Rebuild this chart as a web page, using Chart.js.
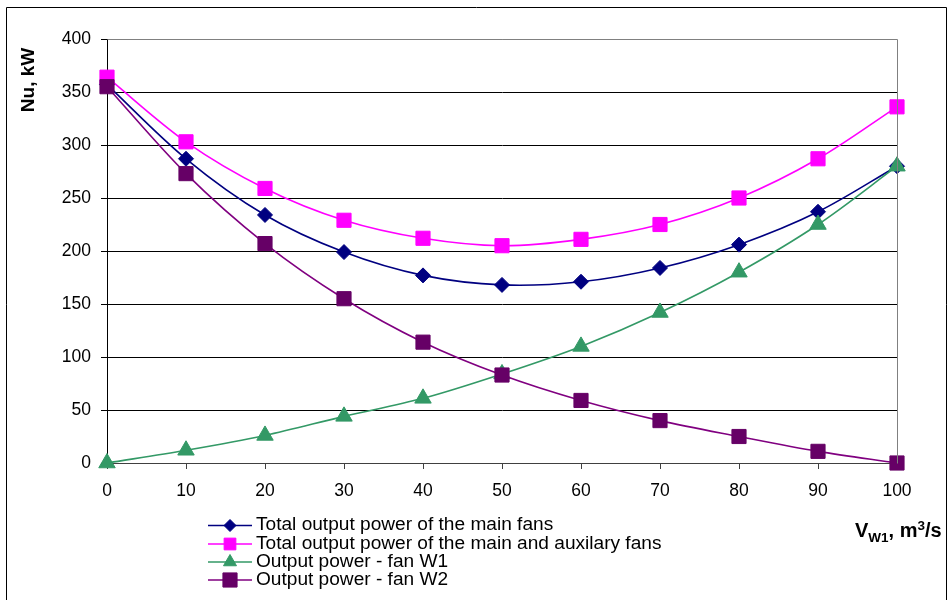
<!DOCTYPE html>
<html>
<head>
<meta charset="utf-8">
<script src="https://cdn.jsdelivr.net/npm/chart.js@4/dist/chart.umd.min.js"></script>
<style>
  html, body { margin: 0; padding: 0; background: #fff; }
  #wrap { width: 949px; height: 600px; position: relative; }
</style>
</head>
<body>
<div id="wrap"><canvas id="c" width="949" height="600"></canvas></div>
<script>
// ---- data ----
const categories = ['0','10','20','30','40','50','60','70','80','90','100'];
const mainFans   = [357, 287, 234, 199, 177, 168, 171, 184, 206, 237, 280];
const mainAuxFans= [364, 303, 259, 229, 212, 205, 211, 225, 250, 287, 336];
const fanW1      = [0, 12, 26, 44, 61, 84, 110, 142, 180, 225, 280];
const fanW2      = [355, 273, 207, 155, 114, 83, 59, 40, 25, 11, 0];
const yTicks     = [0, 50, 100, 150, 200, 250, 300, 350, 400];
const seriesNames = [
  'Total output power of the main fans',
  'Total output power of the main and auxilary fans',
  'Output power - fan W1',
  'Output power - fan W2'
];

const FONT = '"Liberation Sans", Arial, sans-serif';

const styles = [
  {line:'#000080', fill:'#000080', pointStyle:'rectRot', radius:7.5, lr:6},
  {line:'#FF00FF', fill:'#FF00FF', pointStyle:'rect', radius:10, lr:8.3},
  {line:'#339966', fill:'#339966', pointStyle:'triangle', radius:9.5, lr:7.5},
  {line:'#800080', fill:'#660066', pointStyle:'rect', radius:10, lr:10}
];
const seriesData = [mainFans, mainAuxFans, fanW1, fanW2];

const datasets = seriesData.map((d, i) => ({
  label: seriesNames[i],
  data: d,
  borderColor: styles[i].line,
  backgroundColor: styles[i].fill,
  pointBackgroundColor: styles[i].fill,
  pointBorderColor: styles[i].fill,
  pointStyle: styles[i].pointStyle,
  pointRadius: styles[i].radius,
  pointHoverRadius: styles[i].radius,
  pointBorderWidth: 1,
  borderWidth: 1.6,
  tension: 0.33,
  fill: false,
  clip: false,
  order: 3 - i
}));

const decor = {
  id: 'decor',
  beforeDraw(chart) {
    const ctx = chart.ctx;
    ctx.save();
    ctx.fillStyle = '#fff';
    ctx.fillRect(0, 0, chart.width, chart.height);
    ctx.restore();
  },
  afterDraw(chart) {
    const ctx = chart.ctx;
    const a = chart.chartArea;
    ctx.save();
    // plot area top/right border (gray)
    ctx.strokeStyle = '#808080';
    ctx.lineWidth = 1;
    ctx.beginPath();
    ctx.moveTo(Math.round(a.left) + 0.5, Math.round(a.top) + 0.5);
    ctx.lineTo(Math.round(a.right) + 0.5, Math.round(a.top) + 0.5);
    ctx.lineTo(Math.round(a.right) + 0.5, Math.round(a.bottom) + 0.5);
    ctx.stroke();
    // outer frame
    ctx.strokeStyle = '#000';
    ctx.beginPath();
    ctx.moveTo(6.5, 610);
    ctx.lineTo(6.5, 7.5);
    ctx.lineTo(946.5, 7.5);
    ctx.lineTo(946.5, 610);
    ctx.stroke();

    // y axis title
    ctx.fillStyle = '#000';
    ctx.save();
    ctx.translate(29, 80);
    ctx.rotate(-Math.PI / 2);
    ctx.font = 'bold 19px ' + FONT;
    ctx.textAlign = 'center';
    ctx.textBaseline = 'middle';
    ctx.fillText('Nu, kW', 0, 0);
    ctx.restore();

    // x axis title  V_W1, m^3/s
    ctx.textAlign = 'left';
    ctx.textBaseline = 'alphabetic';
    let x = 855;
    const base = 537;
    const parts = [
      {t:'V', f:'bold 20px ', dy:0},
      {t:'W1', f:'bold 13.5px ', dy:5},
      {t:', m', f:'bold 20px ', dy:0},
      {t:'3', f:'bold 13.5px ', dy:-7.5},
      {t:'/s', f:'bold 20px ', dy:0}
    ];
    parts.forEach(p => {
      ctx.font = p.f + FONT;
      ctx.fillText(p.t, x, base + p.dy);
      x += ctx.measureText(p.t).width;
    });

    // legend
    const rows = [530, 548.5, 566.5, 584.5];
    ctx.font = '19.1px ' + FONT;
    seriesNames.forEach((name, i) => {
      const s = styles[i];
      const cy = rows[i] - 4.5;
      ctx.strokeStyle = s.line;
      ctx.lineWidth = 1.6;
      ctx.beginPath();
      ctx.moveTo(208, cy);
      ctx.lineTo(252, cy);
      ctx.stroke();
      ctx.fillStyle = s.fill;
      ctx.strokeStyle = s.fill;
      ctx.lineWidth = 1;
      Chart.helpers.drawPoint(ctx, {pointStyle: s.pointStyle, radius: s.lr, rotation: 0, borderWidth: 1}, 230, cy);
      ctx.fillStyle = '#000';
      ctx.fillText(name, 256, rows[i]);
    });
    ctx.restore();
  }
};

new Chart(document.getElementById('c'), {
  type: 'line',
  data: { labels: categories, datasets },
  options: {
    responsive: false,
    animation: false,
    events: [],
    layout: { padding: { top: 39, right: 52, left: 0, bottom: 0 } },
    plugins: { legend: { display: false }, tooltip: { enabled: false } },
    scales: {
      x: {
        type: 'category',
        offset: false,
        afterFit(s) { s.height = 137; },
        grid: { drawOnChartArea: false, drawTicks: true, tickLength: 6, color: '#404040', lineWidth: 1 },
        border: { display: true, color: '#404040', width: 1 },
        ticks: { color: '#000', font: { family: FONT, size: 17.5 }, padding: 12, maxRotation: 0, autoSkip: false }
      },
      y: {
        min: 0, max: 400,
        afterFit(s) { s.width = 107; },
        afterBuildTicks(s) { s.ticks = yTicks.map(v => ({ value: v })); },
        grid: {
          color: ctx => (ctx.tick && ctx.tick.value === 400) ? '#808080' : '#000',
          tickColor: '#000',
          tickLength: 6,
          lineWidth: 1
        },
        border: { display: true, color: '#000', width: 1 },
        ticks: { color: '#000', font: { family: FONT, size: 17.5 }, padding: 10 }
      }
    }
  },
  plugins: [decor]
});
</script>
</body>
</html>
